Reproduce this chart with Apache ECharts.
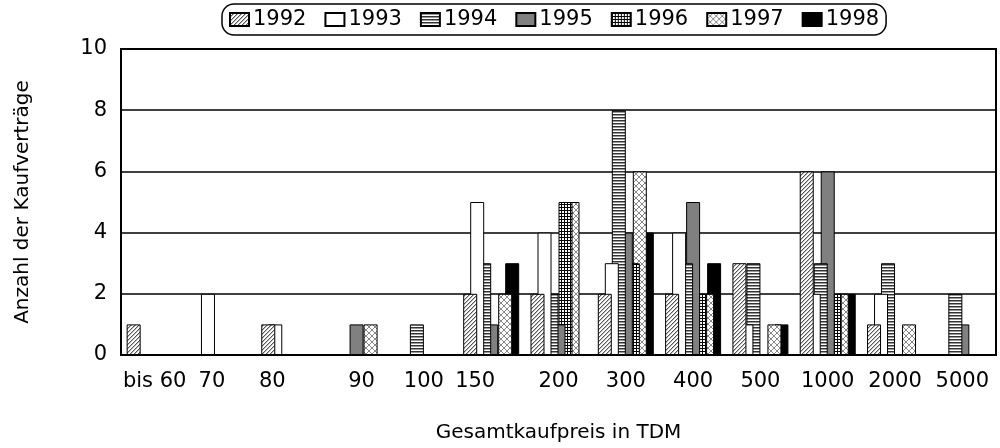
<!DOCTYPE html>
<html>
<head>
<meta charset="utf-8">
<script src="https://cdn.jsdelivr.net/npm/echarts@6/dist/echarts.min.js"></script>
<style>
  html, body { margin: 0; padding: 0; background: #fff; }
  #chart { width: 1000px; height: 448px; }
</style>
</head>
<body>
<div id="chart"></div>
<script>
/* ---------------- Data ---------------- */
const categories = ["bis 60", "70", "80", "90", "100", "150", "200", "300", "400", "500", "1000", "2000", "5000"];
const years = ["1992", "1993", "1994", "1995", "1996", "1997", "1998"];

const v1992 = [1, 0, 1, 0, 0, 2, 2, 2, 2, 3, 6, 1, 0];
const v1993 = [0, 2, 1, 0, 0, 5, 4, 3, 4, 1, 2, 2, 0];
const v1994 = [0, 0, 0, 0, 1, 3, 2, 8, 3, 3, 3, 3, 2];
const v1995 = [0, 0, 0, 1, 0, 1, 1, 4, 5, 0, 6, 0, 1];
const v1996 = [0, 0, 0, 0, 0, 0, 5, 3, 2, 0, 2, 0, 0];
const v1997 = [0, 0, 0, 1, 0, 2, 5, 6, 2, 1, 2, 1, 0];
const v1998 = [0, 0, 0, 0, 0, 3, 0, 4, 3, 1, 2, 0, 0];

const yTicks = { min: 0, max: 10, interval: 2 };

/* ---------------- Helpers ---------------- */
const FONT = "DejaVu Sans";
const TICK_SIZE = 21;

function pattern(w, h, paint) {
  const c = document.createElement("canvas");
  c.width = w;
  c.height = h;
  const g = c.getContext("2d");
  g.fillStyle = "#fff";
  g.fillRect(0, 0, w, h);
  paint(g);
  return { image: c, repeat: "repeat" };
}

const fills = [
  // 1992: fine diagonal hatch
  pattern(4, 4, g => {
    for (let i = 0; i < 4; i++) {
      g.fillStyle = "#555";
      g.fillRect(i, 3 - i, 1, 1);
      g.fillStyle = "#bbb";
      g.fillRect(i, (4 - i) % 4, 1, 1);
    }
  }),
  // 1993: plain white
  "#fff",
  // 1994: horizontal stripes
  pattern(1, 3, g => {
    g.fillStyle = "#333"; g.fillRect(0, 0, 1, 1);
    g.fillStyle = "#999"; g.fillRect(0, 1, 1, 1);
  }),
  // 1995: solid grey
  "#808080",
  // 1996: small grid
  pattern(3, 3, g => {
    g.fillStyle = "#000";
    g.fillRect(0, 0, 3, 1);
    g.fillRect(0, 0, 1, 3);
  }),
  // 1997: light crosshatch
  pattern(6, 6, g => {
    g.fillStyle = "#888";
    for (let i = 0; i < 6; i++) {
      g.fillRect(i, i, 1, 1);
      g.fillRect(i, 5 - i, 1, 1);
    }
  }),
  // 1998: black
  "#000"
];

// small horizontal nudges of a few tick labels, as in the original
const labelShift = { "70": -10, "80": -17, "90": 5, "150": -16 };
const rich = {};
const labelKey = {};
Object.keys(labelShift).forEach((k, i) => {
  const s = labelShift[k];
  labelKey[k] = "s" + i;
  rich["s" + i] = {
    fontFamily: FONT, fontSize: TICK_SIZE, color: "#000",
    padding: s < 0 ? [0, -2 * s, 0, 0] : [0, 0, 0, 2 * s]
  };
});

/* ---------------- Chart ---------------- */
const values = [v1992, v1993, v1994, v1995, v1996, v1997, v1998];
const chartInstance = echarts.init(document.getElementById("chart"), null, { renderer: "canvas" });

const option = {
  animation: false,
  backgroundColor: "#fff",
  textStyle: { fontFamily: FONT, color: "#000" },
  legend: {
    data: years,
    icon: "rect",
    left: 222,
    top: 4,
    padding: [5, 7, 5, 7],
    borderColor: "#000",
    borderWidth: 1.5,
    borderRadius: 12,
    itemWidth: 19,
    itemHeight: 13,
    itemGap: 18,
    textStyle: { fontFamily: FONT, fontSize: 21, color: "#000", padding: [0, 0, 0, -1] }
  },
  grid: {
    left: 121,
    right: 4,
    top: 49,
    bottom: 90,
    show: true,
    borderColor: "#000",
    borderWidth: 2,
    containLabel: false
  },
  xAxis: {
    type: "category",
    data: categories,
    name: "Gesamtkaufpreis in TDM",
    nameLocation: "middle",
    nameGap: 68,
    nameTextStyle: { fontFamily: FONT, fontSize: 20, color: "#000" },
    axisLine: { lineStyle: { color: "#000", width: 2 } },
    axisTick: { show: false },
    axisLabel: {
      interval: 0,
      margin: 16,
      fontFamily: FONT,
      fontSize: TICK_SIZE,
      color: "#000",
      rich: rich,
      formatter: v => labelKey[v] ? `{${labelKey[v]}|${v}}` : v
    },
    splitLine: { show: false }
  },
  yAxis: {
    type: "value",
    min: yTicks.min,
    max: yTicks.max,
    interval: yTicks.interval,
    name: "Anzahl der Kaufverträge",
    nameLocation: "middle",
    nameGap: 88,
    nameTextStyle: { fontFamily: FONT, fontSize: 20, color: "#000" },
    axisLine: { show: true, lineStyle: { color: "#000", width: 2 } },
    axisTick: { show: false },
    axisLabel: { margin: 14, fontFamily: FONT, fontSize: TICK_SIZE, color: "#000" },
    splitLine: { show: true, lineStyle: { color: "#000", width: 1.5 } }
  },
  series: years.map((y, k) => ({
    name: y,
    type: "bar",
    data: values[k],
    barWidth: 14,
    barGap: "-50%",
    z: 20 - k,
    itemStyle: { color: fills[k], borderColor: "#000", borderWidth: 1 }
  }))
};

chartInstance.setOption(option);
</script>
</body>
</html>
